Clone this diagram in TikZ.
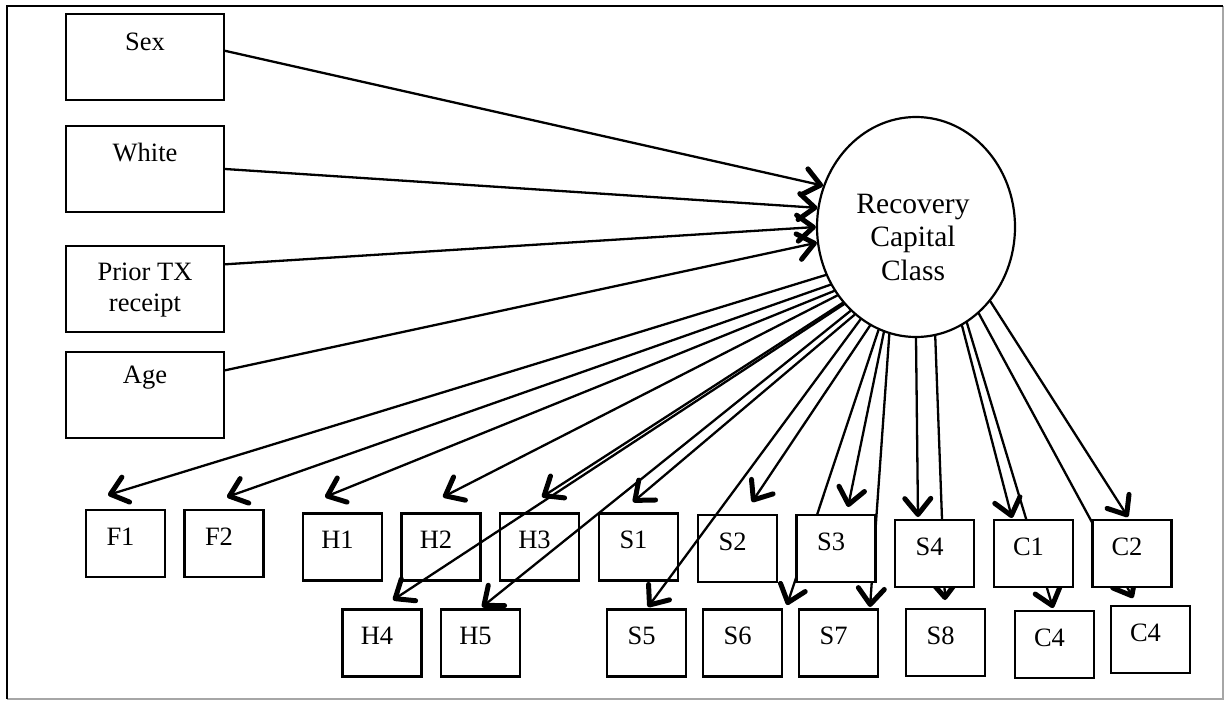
\documentclass[tikz,border=0pt]{standalone}
\usepackage{fontspec}
\setmainfont{Liberation Serif}
\usetikzlibrary{shapes.geometric,arrows.meta,calc}
\tikzset{
  vbox/.style={draw, line width=2.2pt, fill=white, minimum width=158pt, minimum height=86pt, inner sep=0pt},
  sbox/.style={draw, line width=2.2pt, fill=white, minimum width=79pt, minimum height=67pt, inner sep=0pt},
  lbl/.style={inner sep=0pt, font=\fontsize{26.5}{31}\selectfont, align=center},
  arr/.style={line width=2.3pt, line cap=round, -{Straight Barb[length=16pt,width=26pt,line width=5pt,round]}},
}
\newcommand\obsbox[3]{\node[sbox] (#1) at (#2) {}; \node[lbl] (#1t) at ($(#1.center)+(-5,-7)$) {#3};}
\begin{document}
\begin{tikzpicture}[x=1pt,y=-1pt]
\useasboundingbox (0,0) rectangle (1225,701);
% frame
\draw[gray!70, line width=1.6pt] (1223,6) -- (1223,699) -- (7,699);
\draw[line width=2.4pt] (7,699) -- (7,6) -- (1223,6);
% latent
\node[ellipse, draw, line width=2.2pt, fill=white, minimum width=198pt, minimum height=220pt, inner sep=0pt] (rc) at (916,227) {};
\node[lbl, font=\fontsize{29.5}{33.5}\selectfont] (rct) at (913,237) {Recovery\\Capital\\Class};
% covariates
\node[vbox] (sex) at (145,57) {};
\node[lbl] (sext) at (145,42) {Sex};
\node[vbox] (white) at (145,169) {};
\node[lbl] (whitet) at (145,153) {White};
\node[vbox] (prior) at (145,289) {};
\node[lbl, font=\fontsize{26.5}{31}\selectfont] (priort) at (145,290) {Prior TX\\receipt};
\node[vbox] (age) at (145,395) {};
\node[lbl] (aget) at (145,378) {Age};
\draw[arr] ($(sex.north east)!0.43!(sex.south east)$) -- (rc.156.5);
\draw[arr] (white.east) -- (rc.169);
\draw[arr] ($(prior.north east)!0.22!(prior.south east)$) -- (rc.180.5);
\draw[arr] ($(age.north east)!0.22!(age.south east)$) -- (rc.189);
% indicators (not covering lines)
\obsbox{F1}{125.5,543.5}{F1}
\obsbox{F2}{224,543.5}{F2}
\obsbox{H1}{342.5,547}{H1}
\obsbox{H2}{441,547}{H2}
\obsbox{H3}{539.5,547}{H3}
\obsbox{S1}{638.5,547}{S1}
\obsbox{S2}{737.5,548.5}{S2}
\obsbox{H4}{382,643}{H4}
\obsbox{H5}{480.5,643}{H5}
\obsbox{S5}{646.5,643}{S5}
\obsbox{S6}{742.5,643}{S6}
\obsbox{S7}{838.5,643}{S7}
\obsbox{S8}{945.5,642.5}{S8}
\obsbox{C4a}{1054.5,644.5}{C4}
\obsbox{C4b}{1150.5,639.5}{C4}
% arrow ends
\coordinate (tF1) at (108,495);
\coordinate (tF2) at (227,497);
\coordinate (tH1) at (325,497);
\coordinate (tH2) at (443,497);
\coordinate (tH3) at (542,497);
\coordinate (tH4) at (393,600);
\coordinate (tH5) at (482,607);
\coordinate (tS1) at (633,502);
\coordinate (tS5) at (648,607);
\coordinate (tS2) at (752,502);
\coordinate (tS3) at (848,507);
\coordinate (tS6) at (787,605);
\coordinate (tS7) at (870,607);
\coordinate (tS4) at (918,517);
\coordinate (tS8) at (945,600);
\coordinate (tC1) at (1012,518);
\coordinate (tC4a) at (1053,608);
\coordinate (tC2) at (1128,517);
\coordinate (tC4b) at (1133,598);
\draw[arr] (rc.208.8) -- (tF1);
\draw[arr] (rc.214) -- (tF2);
\draw[arr] (rc.218.1) -- (tH1);
\draw[arr] (rc.221.9) -- (tH2);
\draw[arr] (rc.226.5) -- (tH3);
\draw[arr] (rc.227.3) -- (tH4);
\draw[arr] (rc.232.2) -- (tH5);
\draw[arr] (rc.235.6) -- (tS1);
\draw[arr] (rc.239.9) -- (tS5);
\draw[arr] (rc.245.8) -- (tS2);
\draw[arr] (rc.250.7) -- (tS6);
\draw[arr] (rc.253.6) -- (tS3);
\draw[arr] (rc.256.2) -- (tS7);
\draw[arr] (rc.270) -- (tS4);
\draw[arr] (rc.280.3) -- (tS8);
\draw[arr] (rc.295.6) -- (tC1);
\draw[arr] (rc.298.4) -- (tC4a);
\draw[arr] (rc.306.7) -- (tC4b);
\draw[arr] (rc.315.4) -- (tC2);
% indicators drawn over lines
\obsbox{S3}{836,548.5}{S3}
\obsbox{S4}{934.5,553.5}{S4}
\obsbox{C1}{1033.5,553.5}{C1}
\obsbox{C2}{1132,553.5}{C2}
\end{tikzpicture}
\end{document}
